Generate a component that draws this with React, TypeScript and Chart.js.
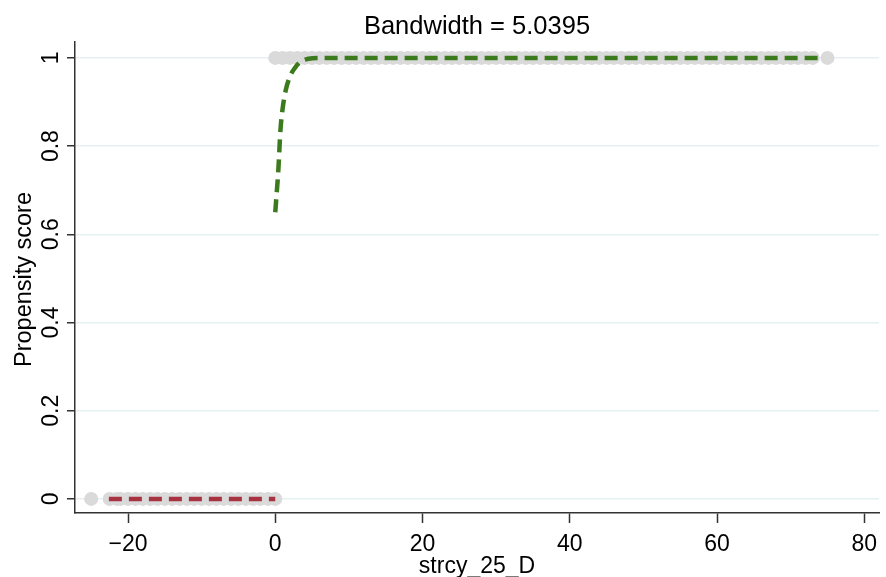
import React, { useEffect, useRef } from "react";
import { Chart, registerables } from "chart.js";

Chart.register(...registerables);

const titleText = "Bandwidth = 5.0395";
const xTitle = "strcy_25_D";
const yTitle = "Propensity score";
const xTicks = [-20, 0, 20, 40, 60, 80];
const yTicks = [0, 0.2, 0.4, 0.6, 0.8, 1];
const yTickLabels = ["0", "0.2", "0.4", "0.6", "0.8", "1"];

// observed scores (gray dots)
const treatedX = [0, 1, 2, 3, 4, 5, 6, 7, 8, 9, 10, 11, 12, 13, 14, 15, 16, 17, 18, 19, 20, 21, 22, 23, 24, 25, 26, 27, 28, 29, 30, 31, 32, 33, 34, 35, 36, 37, 38, 39, 40, 41, 42, 43, 44, 45, 46, 47, 48, 49, 50, 51, 52, 53, 54, 55, 56, 57, 58, 59, 60, 61, 62, 63, 64, 65, 66, 67, 68, 69, 70, 71, 72, 73, 75];
const treatedY = 1;
const controlX = [-25, -22.5, -21.5, -21, -20, -19, -18, -17, -16, -15, -14, -13, -12, -11, -10, -9, -8, -7, -6, -5, -4, -3, -2, -1, 0];
const controlY = 0;

// fitted propensity (right of cutoff)
const fitRightX = [0, 0.2, 0.4, 0.7, 1.0, 1.4, 2.0, 2.7, 3.5, 4.5, 6, 10, 20, 40, 60, 74];
const fitRightY = [0.65, 0.695, 0.74, 0.835, 0.885, 0.925, 0.958, 0.978, 0.992, 0.998, 1, 1, 1, 1, 1, 1];
// fitted propensity (left of cutoff)
const fitLeftX = [-22.6, -15, -10, -5, 0];
const fitLeftY = [0, 0, 0, 0, 0];

const FONT = "'Liberation Sans', Arial, sans-serif";

const textPlugin = {
  id: "textPlugin",
  afterDraw(chart: any) {
    const ctx = chart.ctx;
    const xs = chart.scales.x;
    const ys = chart.scales.y;
    const ca = chart.chartArea;
    const cx = (ca.left + ca.right) / 2;
    ctx.save();
    ctx.fillStyle = "#000";
    ctx.textAlign = "center";
    ctx.textBaseline = "alphabetic";
    ctx.font = `25.5px ${FONT}`;
    ctx.fillText(titleText, cx, 34);
    ctx.font = `23px ${FONT}`;
    xTicks.forEach((v) => {
      ctx.fillText(v < 0 ? "\u2212" + Math.abs(v) : String(v), xs.getPixelForValue(v), 551);
    });
    ctx.fillText(xTitle, cx, 573);
    yTicks.forEach((v, i) => {
      ctx.save();
      ctx.translate(58, ys.getPixelForValue(v));
      ctx.rotate(-Math.PI / 2);
      ctx.fillText(yTickLabels[i], 0, 0);
      ctx.restore();
    });
    ctx.save();
    ctx.translate(31, (ca.top + ca.bottom) / 2 + 2);
    ctx.rotate(-Math.PI / 2);
    ctx.font = `23.5px ${FONT}`;
    ctx.fillText(yTitle, 0, 0);
    ctx.restore();
    ctx.restore();
  },
};

export default function App() {
  const ref = useRef<HTMLCanvasElement>(null);
  useEffect(() => {
    if (!ref.current) return;
    const dot = "#dadada";
    const chart = new Chart(ref.current, {
      type: "scatter",
      data: {
        datasets: [
          {
            label: "fit right",
            data: fitRightX.map((x, i) => ({ x, y: fitRightY[i] })),
            showLine: true,
            borderColor: "#3c7a1e",
            borderWidth: 4.5,
            borderDash: [13, 7],
            pointRadius: 0,
            cubicInterpolationMode: "monotone",
            order: 0,
          },
          {
            label: "fit left",
            data: fitLeftX.map((x, i) => ({ x, y: fitLeftY[i] })),
            showLine: true,
            borderColor: "#a83340",
            borderWidth: 4.5,
            borderDash: [13, 7],
            pointRadius: 0,
            order: 0,
          },
          {
            label: "treated",
            data: treatedX.map((x) => ({ x, y: treatedY })),
            showLine: false,
            pointRadius: 7,
            pointBackgroundColor: dot,
            pointBorderWidth: 0,
            order: 1,
          },
          {
            label: "control",
            data: controlX.map((x) => ({ x, y: controlY })),
            showLine: false,
            pointRadius: 7,
            pointBackgroundColor: dot,
            pointBorderWidth: 0,
            order: 1,
          },
        ],
      } as any,
      options: {
        responsive: false,
        animation: false,
        devicePixelRatio: 1,
        events: [],
        layout: { padding: { top: 42, left: 0, right: 0, bottom: 0 } },
        plugins: { legend: { display: false }, tooltip: { enabled: false }, title: { display: false } },
        scales: {
          x: {
            type: "linear",
            min: -27.2,
            max: 82,
            afterBuildTicks: (s: any) => {
              s.ticks = xTicks.map((v) => ({ value: v }));
            },
            afterFit: (s: any) => {
              s.height = 64;
            },
            ticks: { display: false },
            grid: {
              drawOnChartArea: false,
              drawTicks: true,
              tickLength: 10,
              tickColor: "#333",
              tickWidth: 1.5,
            },
            border: { display: true, color: "#333", width: 1.5 },
          },
          y: {
            type: "linear",
            min: -0.032,
            max: 1.036,
            afterBuildTicks: (s: any) => {
              s.ticks = yTicks.map((v) => ({ value: v }));
            },
            afterFit: (s: any) => {
              s.width = 75;
            },
            ticks: { display: false },
            grid: {
              color: "#e6eff2",
              lineWidth: 1.5,
              drawTicks: true,
              tickLength: 8,
              tickColor: "#333",
              tickWidth: 1.5,
            },
            border: { display: true, color: "#333", width: 1.5 },
          },
        },
      } as any,
      plugins: [textPlugin],
    });
    return () => chart.destroy();
  }, []);
  return (
    <div style={{ position: "absolute", left: 0, top: 0, width: 886, height: 577, background: "#fff" }}>
      <canvas ref={ref} width={886} height={577} />
    </div>
  );
}
